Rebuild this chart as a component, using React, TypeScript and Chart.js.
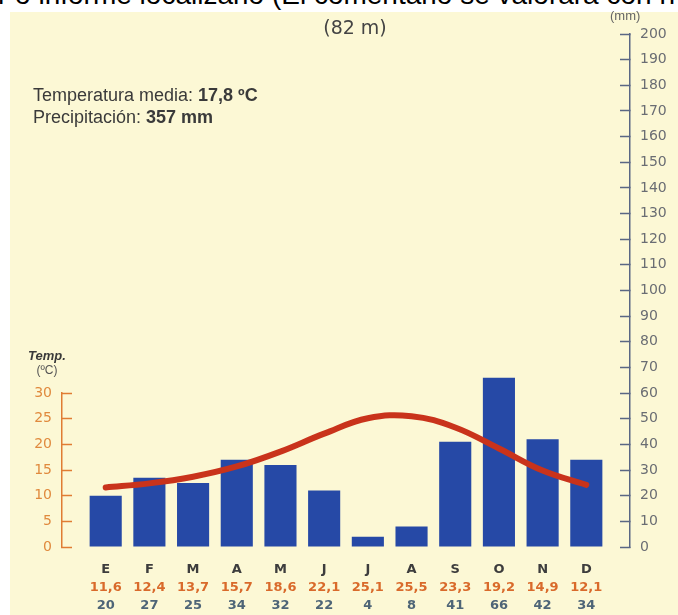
import React, { useEffect, useRef } from "react";
import { Chart, registerables } from "chart.js";

Chart.register(...registerables);

const months = ["E", "F", "M", "A", "M", "J", "J", "A", "S", "O", "N", "D"];
const temperatures = [11.6, 12.4, 13.7, 15.7, 18.6, 22.1, 25.1, 25.5, 23.3, 19.2, 14.9, 12.1];
const precipitation = [20, 27, 25, 34, 32, 22, 4, 8, 41, 66, 42, 34];
const tempLabels = temperatures.map((t) => t.toFixed(1).replace(".", ","));
const precipLabels = precipitation.map((p) => String(p));
const precipRange = { min: 0, max: 200, step: 10 };
const tempRange = { min: 0, max: 30, step: 5 };

const FONT = "'DejaVu Sans', 'Liberation Sans', Arial, sans-serif";
const TEXT_FONT = "'Liberation Sans', Arial, Helvetica, sans-serif";
const BG = "#fcf8d5";
const BAR = "#2649a6";
const LINE = "#c9331b";
const AXIS_R = "#5a6784";
const AXIS_L = "#e07c33";

export default function App() {
  const ref = useRef<HTMLCanvasElement | null>(null);

  useEffect(() => {
    if (!ref.current) return;
    const idx = months.map((_, i) => i);
    const setTicks = (s: any) => {
      s.ticks = idx.map((v) => ({ value: v }));
    };
    const xBase = (weight: number, padding: number, color: string, labels: string[], height: number) => ({
      type: "linear" as const,
      position: "bottom" as const,
      min: -1,
      max: 12,
      offset: false,
      weight,
      grid: { display: false, drawTicks: false, offset: false },
      border: { display: false },
      afterBuildTicks: setTicks,
      afterFit: (s: any) => {
        s.height = height;
      },
      ticks: {
        autoSkip: false,
        maxRotation: 0,
        padding,
        color,
        font: { family: FONT, size: 13, weight: "bold" as const },
        callback: (v: any) => labels[v] ?? "",
      },
    });

    const chart = new Chart(ref.current, {
      type: "bar",
      data: {
        datasets: [
          {
            type: "line",
            data: temperatures.map((t, i) => ({ x: i, y: t })),
            xAxisID: "x",
            yAxisID: "yT",
            borderColor: LINE,
            borderWidth: 6,
            borderCapStyle: "round",
            pointRadius: 0,
            tension: 0.4,
            order: 0,
          } as any,
          {
            type: "bar",
            data: precipitation.map((p, i) => ({ x: i, y: p })),
            xAxisID: "x",
            yAxisID: "yP",
            backgroundColor: BAR,
            categoryPercentage: 1,
            barPercentage: 0.735,
            order: 1,
          } as any,
        ],
      },
      options: {
        responsive: false,
        animation: false,
        devicePixelRatio: 1,
        layout: { padding: { top: 34, left: 0, right: 0, bottom: 0 } },
        plugins: { legend: { display: false }, tooltip: { enabled: false } },
        scales: {
          x: xBase(0, 15, "#3d3d3d", months, 31),
          xT: xBase(1, 2, "#d96a2b", tempLabels, 18),
          xP: xBase(2, 2, "#4e6577", precipLabels, 19),
          yP: {
            type: "linear",
            position: "right",
            min: precipRange.min,
            max: precipRange.max,
            ticks: {
              stepSize: precipRange.step,
              autoSkip: false,
              padding: 20,
              color: "#6a6d73",
              font: { family: FONT, size: 14 },
            },
            grid: { drawOnChartArea: false, tickLength: -10, tickColor: AXIS_R, tickWidth: 1.5 },
            border: { color: AXIS_R, width: 1.5 },
            afterFit: (s: any) => {
              s.width = 48;
            },
          },
          yT: {
            type: "linear",
            position: "left",
            stack: "left",
            stackWeight: 3,
            weight: 0,
            min: tempRange.min,
            max: tempRange.max,
            ticks: {
              stepSize: tempRange.step,
              autoSkip: false,
              padding: 20,
              color: "#e08a3e",
              font: { family: FONT, size: 14 },
            },
            grid: { drawOnChartArea: false, tickLength: -10, tickColor: AXIS_L, tickWidth: 1.5 },
            border: { color: AXIS_L, width: 1.5 },
            afterFit: (s: any) => {
              s.width = 62;
            },
          },
          yTop: {
            type: "linear",
            position: "left",
            stack: "left",
            stackWeight: 7,
            weight: 1,
            display: false,
            afterFit: (s: any) => {
              s.width = 62;
            },
          },
        } as any,
      },
    });
    return () => chart.destroy();
  }, []);

  const text: React.CSSProperties = {
    position: "absolute",
    fontFamily: TEXT_FONT,
    color: "#3a3a3a",
    whiteSpace: "nowrap",
    lineHeight: 1,
  };

  return (
    <div style={{ position: "absolute", left: 0, top: 0, width: 678, height: 615, background: "#ffffff", overflow: "hidden" }}>
      <div style={{ position: "absolute", left: 10, top: 12, right: 0, bottom: 0, background: BG }} />
      <div style={{ position: "absolute", left: 0, top: 0, width: 678, height: 12, overflow: "hidden", background: "#ffffff" }}>
        <div style={{ position: "absolute", left: -2, top: -21, fontFamily: TEXT_FONT, fontSize: 28, color: "#000", whiteSpace: "nowrap" }}>
          r o informe localizarlo (El comentario se valorará con n
        </div>
      </div>
      <canvas ref={ref} width={678} height={615} style={{ position: "absolute", left: 0, top: 0 }} />
      <div style={{ ...text, left: 0, width: 710, textAlign: "center", top: 18, fontSize: 19, fontFamily: FONT, color: "#444" }}>(82 m)</div>
      <div style={{ ...text, left: 610, top: 9, fontSize: 13, color: "#666" }}>(mm)</div>
      <div style={{ ...text, left: 33, top: 86, fontSize: 18 }}>
        Temperatura media: <b>17,8 ºC</b>
      </div>
      <div style={{ ...text, left: 33, top: 108, fontSize: 18 }}>
        Precipitación: <b>357 mm</b>
      </div>
      <div style={{ ...text, left: 27, width: 40, textAlign: "center", top: 349, fontSize: 13, fontWeight: "bold", fontStyle: "italic", color: "#3a3a3a" }}>
        Temp.
      </div>
      <div style={{ ...text, left: 27, width: 40, textAlign: "center", top: 364, fontSize: 12, color: "#555" }}>(ºC)</div>
    </div>
  );
}
